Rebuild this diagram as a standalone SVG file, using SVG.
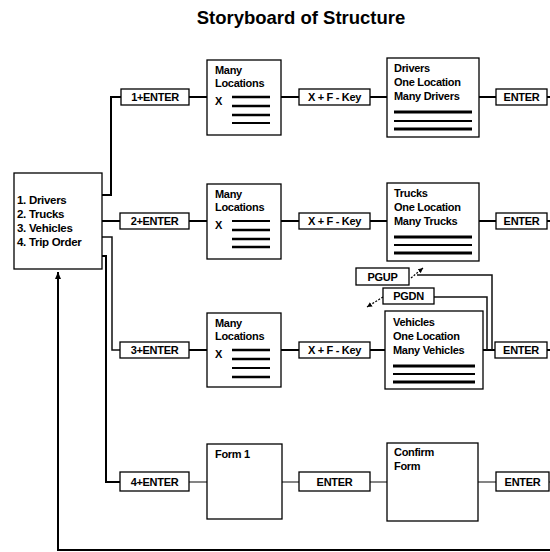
<svg xmlns="http://www.w3.org/2000/svg" width="550" height="552" viewBox="0 0 550 552">
<style>
.bx{fill:#fff;stroke:#000;stroke-width:1.3}
.t{font-family:"Liberation Sans",Arial,sans-serif;font-weight:bold;font-size:11px;fill:#000;letter-spacing:-0.3px}
.c{text-anchor:middle}
.m{font-size:11.5px}
.ttl{font-family:"Liberation Sans",Arial,sans-serif;font-weight:bold;font-size:18.5px;text-anchor:middle;fill:#000}
.w{fill:none;stroke:#000;stroke-width:2}
.n{fill:none;stroke:#111;stroke-width:1.5}
.r{fill:none;stroke:#333;stroke-width:1.2}
.hk{stroke:#000;stroke-width:3}
.hn{stroke:#000;stroke-width:2}
.hm{stroke:#000;stroke-width:2.6}
.ds{fill:none;stroke:#000;stroke-width:1.2;stroke-dasharray:2,1.5}
</style>
<defs>
<marker id="ah" markerWidth="8" markerHeight="8" refX="7" refY="4" orient="auto" markerUnits="userSpaceOnUse">
<path d="M0,1 L7,4 L0,7 Z" fill="#000"/>
</marker>
<marker id="sa" markerWidth="6" markerHeight="6" refX="5" refY="3" orient="auto" markerUnits="userSpaceOnUse">
<path d="M0,0.5 L5,3 L0,5.5 Z" fill="#000"/>
</marker>
</defs>
<text class="ttl" x="301" y="24">Storyboard of Structure</text>

<g id="connectors">
<polyline class="w" points="102,195 111,195 111,97 121,97"/>
<line class="w" x1="189" y1="97" x2="207" y2="97"/>
<line class="w" x1="281" y1="97" x2="299" y2="97"/>
<line class="w" x1="370" y1="97" x2="387" y2="97"/>
<line class="w" x1="479" y1="97" x2="496" y2="97"/>
<line class="w" x1="547" y1="97" x2="550" y2="97"/>

<line class="w" x1="102" y1="221" x2="120" y2="221"/>
<line class="w" x1="189" y1="221" x2="207" y2="221"/>
<line class="w" x1="281" y1="221" x2="299" y2="221"/>
<line class="w" x1="370" y1="221" x2="387" y2="221"/>
<line class="w" x1="479" y1="221" x2="496" y2="221"/>
<line class="w" x1="547" y1="221" x2="550" y2="221"/>

<polyline class="n" points="102,237 112,237 112,350 120,350"/>
<line class="w" x1="189" y1="350" x2="207" y2="350"/>
<line class="w" x1="281" y1="350" x2="299" y2="350"/>
<line class="w" x1="370" y1="350" x2="385" y2="350"/>
<line class="w" x1="483" y1="350" x2="495" y2="350"/>
<line class="w" x1="547" y1="350" x2="550" y2="350"/>
<polyline class="n" points="417,275 492,275 492,350"/>
<polyline class="n" points="434,297 487,297 487,350"/>
<line class="ds" x1="411" y1="278" x2="423" y2="268" marker-end="url(#sa)"/>
<line class="ds" x1="383" y1="297" x2="367" y2="307" marker-end="url(#sa)"/>

<polyline class="w" points="102,256 106,256 106,482 120,482"/>
<line class="r" x1="189" y1="482" x2="207" y2="482"/>
<line class="r" x1="282" y1="482" x2="299" y2="482"/>
<line class="r" x1="370" y1="482" x2="387" y2="482"/>
<line class="r" x1="478" y1="482" x2="496" y2="482"/>
<line class="r" x1="549" y1="482" x2="550" y2="482"/>

<polyline class="w" points="550,550 58,550 58,272" marker-end="url(#ah)"/>
</g>

<g id="menu">
<rect class="bx" x="14" y="173" width="88" height="96"/>
<text class="t m" x="17" y="204">1. Drivers</text>
<text class="t m" x="17" y="218">2. Trucks</text>
<text class="t m" x="17" y="232">3. Vehicles</text>
<text class="t m" x="17" y="246">4. Trip Order</text>
</g>

<g id="k1">
<rect class="bx" x="121" y="89" width="68" height="16"/>
<text class="t c" x="155" y="101">1+ENTER</text>
</g>
<g id="loc1">
<rect class="bx" x="207" y="60" width="74" height="75"/>
<text class="t" x="215" y="74">Many</text>
<text class="t" x="215" y="87">Locations</text>
<text class="t" x="215" y="105">X</text>
<line class="hm" x1="232" y1="97" x2="270" y2="97"/>
<line class="hm" x1="232" y1="106" x2="270" y2="106"/>
<line class="hm" x1="232" y1="115" x2="270" y2="115"/>
<line class="hn" x1="232" y1="123" x2="270" y2="123"/>
</g>
<g id="f1">
<rect class="bx" x="299" y="89" width="71" height="16"/>
<text class="t c" x="334.5" y="101">X + F - Key</text>
</g>
<g id="drivers">
<rect class="bx" x="387" y="58" width="92" height="79"/>
<text class="t" x="394" y="72">Drivers</text>
<text class="t" x="394" y="85.5">One Location</text>
<text class="t" x="394" y="99.5">Many Drivers</text>
<line class="hk" x1="394" y1="112" x2="472" y2="112"/>
<line class="hn" x1="394" y1="121" x2="472" y2="121"/>
<line class="hk" x1="394" y1="129" x2="472" y2="129"/>
</g>
<g id="e1">
<rect class="bx" x="496" y="89" width="51" height="16"/>
<text class="t c" x="521.5" y="101">ENTER</text>
</g>

<g id="k2">
<rect class="bx" x="120" y="213" width="69" height="16"/>
<text class="t c" x="154.5" y="225">2+ENTER</text>
</g>
<g id="loc2">
<rect class="bx" x="207" y="184" width="74" height="75"/>
<text class="t" x="215" y="198">Many</text>
<text class="t" x="215" y="211">Locations</text>
<text class="t" x="215" y="229">X</text>
<line class="hn" x1="232" y1="221" x2="270" y2="221"/>
<line class="hm" x1="232" y1="230" x2="270" y2="230"/>
<line class="hm" x1="232" y1="239" x2="270" y2="239"/>
<line class="hm" x1="232" y1="247" x2="270" y2="247"/>
</g>
<g id="f2">
<rect class="bx" x="299" y="213" width="71" height="16"/>
<text class="t c" x="334.5" y="225">X + F - Key</text>
</g>
<g id="trucks">
<rect class="bx" x="387" y="183" width="92" height="78"/>
<text class="t" x="394" y="197">Trucks</text>
<text class="t" x="394" y="210.5">One Location</text>
<text class="t" x="394" y="224.5">Many Trucks</text>
<line class="hk" x1="394" y1="237" x2="472" y2="237"/>
<line class="hn" x1="394" y1="245" x2="472" y2="245"/>
<line class="hk" x1="394" y1="253" x2="472" y2="253"/>
</g>
<g id="e2">
<rect class="bx" x="496" y="213" width="51" height="16"/>
<text class="t c" x="521.5" y="225">ENTER</text>
</g>

<g id="k3">
<rect class="bx" x="120" y="342" width="69" height="16"/>
<text class="t c" x="154.5" y="354">3+ENTER</text>
</g>
<g id="loc3">
<rect class="bx" x="207" y="313" width="74" height="74"/>
<text class="t" x="215" y="327">Many</text>
<text class="t" x="215" y="340">Locations</text>
<text class="t" x="215" y="358">X</text>
<line class="hm" x1="232" y1="350" x2="270" y2="350"/>
<line class="hm" x1="232" y1="359" x2="270" y2="359"/>
<line class="hn" x1="232" y1="368" x2="270" y2="368"/>
<line class="hm" x1="232" y1="377" x2="270" y2="377"/>
</g>
<g id="f3">
<rect class="bx" x="299" y="342" width="71" height="16"/>
<text class="t c" x="334.5" y="354">X + F - Key</text>
</g>
<g id="vehicles">
<rect class="bx" x="385" y="311" width="98" height="78"/>
<text class="t" x="393" y="326">Vehicles</text>
<text class="t" x="393" y="339.5">One Location</text>
<text class="t" x="393" y="353.5">Many Vehicles</text>
<line class="hk" x1="393" y1="366" x2="475" y2="366"/>
<line class="hn" x1="393" y1="374" x2="475" y2="374"/>
<line class="hk" x1="393" y1="382" x2="475" y2="382"/>
</g>
<g id="pgup">
<rect class="bx" x="356" y="268" width="53" height="17"/>
<text class="t c" x="382.5" y="280.5">PGUP</text>
</g>
<g id="pgdn">
<rect class="bx" x="383" y="288" width="51" height="16"/>
<text class="t c" x="408.5" y="300">PGDN</text>
</g>
<g id="e3">
<rect class="bx" x="495" y="342" width="52" height="16"/>
<text class="t c" x="521" y="354">ENTER</text>
</g>

<g id="k4">
<rect class="bx" x="120" y="472" width="69" height="19"/>
<text class="t c" x="154.5" y="485.5">4+ENTER</text>
</g>
<g id="form1">
<rect class="bx" x="207" y="444" width="75" height="75"/>
<text class="t" x="215" y="458">Form 1</text>
</g>
<g id="e4a">
<rect class="bx" x="299" y="472" width="71" height="19"/>
<text class="t c" x="334.5" y="485.5">ENTER</text>
</g>
<g id="confirm">
<rect class="bx" x="387" y="443" width="91" height="78"/>
<text class="t" x="394" y="456">Confirm</text>
<text class="t" x="394" y="470">Form</text>
</g>
<g id="e4b">
<rect class="bx" x="496" y="472" width="53" height="19"/>
<text class="t c" x="522.5" y="485.5">ENTER</text>
</g>
</svg>
